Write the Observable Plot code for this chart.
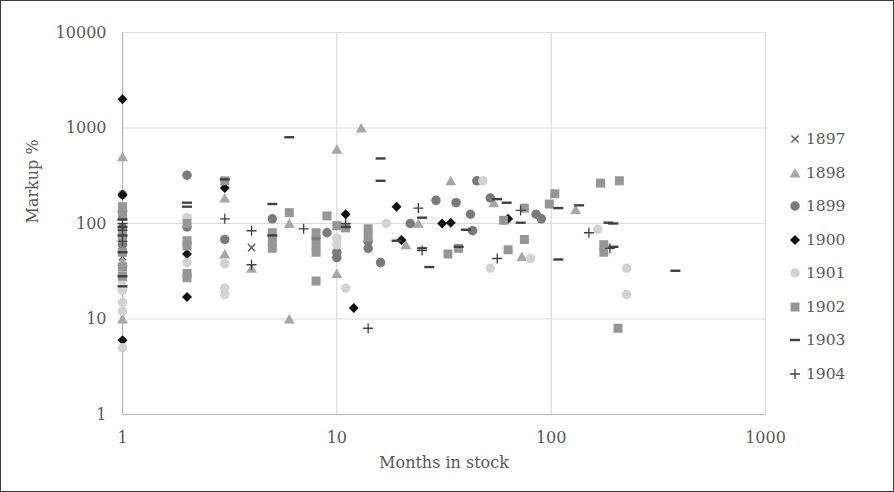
<!DOCTYPE html>
<html><head><meta charset="utf-8">
<script src="https://cdn.jsdelivr.net/npm/d3@7"></script>
<script src="https://cdn.jsdelivr.net/npm/@observablehq/plot@0.6"></script>
<style>
body{margin:0;background:#fff;}
#wrap{position:relative;width:894px;height:492px;overflow:hidden;background:#fff;}
#border{position:absolute;left:0;top:0;width:892px;height:490px;border:1px solid #3a3a3a;pointer-events:none}
#legend{position:absolute;left:788px;top:0;font-family:"DejaVu Serif";font-size:15.5px;color:#595959}
.item{position:absolute;left:0;display:flex;align-items:center;white-space:nowrap;height:20px;margin-top:-10px}
.item svg{margin-right:4px}
</style></head><body><div id="wrap"><div id="chart"></div><div id="legend"></div><div id="border"></div></div>
<script>
// ---- data ----
const seriesNames = ["1897","1898","1899","1900","1901","1902","1903","1904"];
const xTicks = [1, 10, 100, 1000];
const yTicks = [1, 10, 100, 1000, 10000];
const xLabel = "Months in stock";
const yLabel = "Markup %";

const months1897 = [1, 1, 4];
const markup1897 = [75, 45, 56];

const months1898 = [1, 1, 1, 1, 3, 3, 4, 6, 6, 10, 10, 13, 21, 24, 34, 54, 73, 130];
const markup1898 = [500, 10, 150, 40, 185, 48, 34, 100, 10, 600, 30, 1000, 60, 100, 280, 165, 45, 140];

const months1899 = [1, 1, 1, 1, 2, 2, 3, 5, 8, 9, 10, 10, 14, 14, 16, 22, 29, 36, 42, 43, 45, 52, 85, 90];
const markup1899 = [200, 130, 90, 60, 320, 92, 68, 112, 70, 80, 50, 44, 65, 55, 39, 100, 175, 165, 125, 84, 280, 185, 125, 112];

const months1900 = [1, 1, 1, 2, 2, 3, 11, 12, 19, 20, 31, 34, 63];
const markup1900 = [2000, 200, 6, 48, 17, 235, 125, 13, 150, 67, 100, 102, 112];

const months1901 = [1, 1, 1, 1, 1, 2, 2, 3, 3, 3, 10, 10, 11, 17, 48, 52, 80, 165, 225, 225];
const markup1901 = [5, 12, 15, 20, 25, 115, 39, 38, 21, 18, 70, 60, 21, 100, 280, 34, 43, 87, 34, 18];

const months1902 = [1, 1, 1, 1, 1, 1, 1, 2, 2, 2, 2, 2, 3, 5, 5, 5, 6, 8, 8, 8, 8, 9, 10, 11, 14, 14, 33, 37, 60, 63, 75, 75, 98, 104, 170, 176, 176, 208, 205];
const markup1902 = [150, 120, 80, 70, 50, 35, 28, 100, 66, 58, 30, 27, 280, 80, 65, 55, 130, 80, 60, 50, 25, 120, 95, 90, 88, 72, 48, 55, 108, 53, 145, 68, 160, 205, 265, 60, 50, 280, 8];

const months1903 = [1, 1, 1, 1, 1, 1, 2, 2, 3, 5, 5, 6, 11, 16, 16, 19, 25, 25, 27, 37, 40, 56, 62, 72, 108, 108, 135, 185, 195, 195, 380];
const markup1903 = [110, 92, 75, 50, 28, 22, 165, 150, 290, 160, 75, 800, 92, 480, 280, 66, 115, 55, 35, 57, 86, 180, 165, 102, 145, 42, 155, 102, 100, 57, 32];

const months1904 = [1, 1, 1, 3, 4, 4, 7, 11, 14, 24, 25, 56, 72, 150, 188];
const markup1904 = [100, 85, 65, 112, 84, 37, 88, 100, 8, 145, 52, 43, 137, 80, 55];

const monthsBySeries = [months1897, months1898, months1899, months1900, months1901, months1902, months1903, months1904];
const markupBySeries = [markup1897, markup1898, markup1899, markup1900, markup1901, markup1902, markup1903, markup1904];

// ---- styles ----
const R = (s) => Math.sqrt(s / Math.PI);
const symbols = {
  times: {draw(c, s){const r = R(s) * 0.72; c.moveTo(-r,-r); c.lineTo(r,r); c.moveTo(-r,r); c.lineTo(r,-r);}},
  triangle: {draw(c, s){const r = R(s); c.moveTo(0,-r); c.lineTo(r*1.1,r*0.9); c.lineTo(-r*1.1,r*0.9); c.closePath();}},
  circle: {draw(c, s){const r = R(s) * 0.95; c.moveTo(r,0); c.arc(0,0,r,0,2*Math.PI);}},
  diamond: {draw(c, s){const r = R(s); c.moveTo(0,-r); c.lineTo(r,0); c.lineTo(0,r); c.lineTo(-r,0); c.closePath();}},
  square: {draw(c, s){const r = R(s) * 0.9; c.moveTo(-r,-r); c.lineTo(r,-r); c.lineTo(r,r); c.lineTo(-r,r); c.closePath();}},
  dash: {draw(c, s){const r = R(s); c.moveTo(-r,0); c.lineTo(r,0);}},
  plus: {draw(c, s){const r = R(s); c.moveTo(-r,0); c.lineTo(r,0); c.moveTo(0,-r); c.lineTo(0,r);}}
};
const styles = [
  {symbol: symbols.times, stroke: "#595959", sw: 1.4, filled: false},
  {symbol: symbols.triangle, fill: "#a6a6a6", filled: true},
  {symbol: symbols.circle, fill: "#7a7a7a", filled: true},
  {symbol: symbols.diamond, fill: "#111111", filled: true},
  {symbol: symbols.circle, fill: "#d2d2d2", filled: true},
  {symbol: symbols.square, fill: "#969696", filled: true},
  {symbol: symbols.dash, stroke: "#404040", sw: 2.4, filled: false},
  {symbol: symbols.plus, stroke: "#404040", sw: 1.3, filled: false}
];

const dotMarks = seriesNames.map((name, i) => {
  const data = monthsBySeries[i].map((m, j) => ({series: name, months: m, markup: markupBySeries[i][j]}));
  const st = styles[i];
  return Plot.dot(data, {
    x: "months", y: "markup", r: 5, symbol: st.symbol,
    fill: st.filled ? st.fill : "none",
    stroke: st.filled ? "none" : st.stroke,
    strokeWidth: st.sw || 0
  });
});

const chart = Plot.plot({
  width: 894, height: 492,
  marginLeft: 122, marginRight: 129, marginTop: 32, marginBottom: 78,
  style: {fontFamily: "DejaVu Serif", fontSize: "16px", color: "#595959", background: "transparent", overflow: "visible"},
  x: {type: "log", domain: [1, 1000]},
  y: {type: "log", domain: [1, 10000]},
  marks: [
    Plot.gridX(xTicks, {stroke: "#d9d9d9", strokeOpacity: 1, strokeWidth: 1.2}),
    Plot.gridY(yTicks, {stroke: "#d9d9d9", strokeOpacity: 1, strokeWidth: 1.2}),
    Plot.ruleX([1], {stroke: "#b5b5b5", strokeWidth: 1.2}),
    Plot.ruleY([1], {stroke: "#b5b5b5", strokeWidth: 1.2}),
    Plot.axisX(xTicks, {tickSize: 0, tickPadding: 17, tickFormat: d3.format("d"), label: null}),
    Plot.axisY(yTicks, {tickSize: 0, tickPadding: 16, tickFormat: d3.format("d"), label: null}),
    ...dotMarks,
    Plot.text([xLabel], {text: d => d, frameAnchor: "bottom", dy: 53, fill: "#595959"}),
    Plot.text([yLabel], {text: d => d, frameAnchor: "left", dx: -90, rotate: -90, fill: "#595959"})
  ]
});
document.getElementById("chart").appendChild(chart);

// ---- legend ----
const legend = document.getElementById("legend");
seriesNames.forEach((name, i) => {
  const st = styles[i];
  const p = d3.path();
  st.symbol.draw(p, Math.PI * 25);
  const item = document.createElement("div");
  item.className = "item";
  item.style.top = (139 + 33.5 * i) + "px";
  item.innerHTML = `<svg width="14" height="14" viewBox="-7 -7 14 14"><path d="${p.toString()}" fill="${st.filled ? st.fill : "none"}" stroke="${st.filled ? "none" : st.stroke}" stroke-width="${st.sw || 0}"/></svg><span>${name}</span>`;
  legend.appendChild(item);
});
</script>
</body></html>
